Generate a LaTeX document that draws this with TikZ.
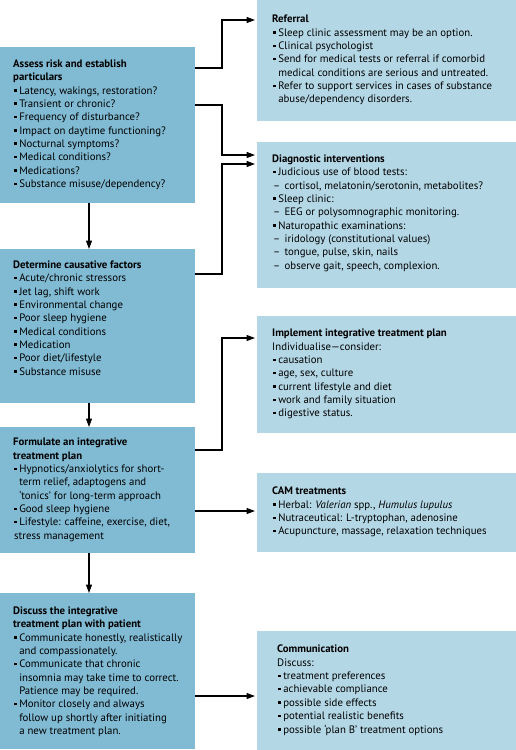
\documentclass[tikz,border=0pt]{standalone}
\usepackage{fontspec}
\setmainfont{PT Sans}
\usetikzlibrary{arrows.meta}
\definecolor{boxdark}{RGB}{128,186,211}
\definecolor{boxlight}{RGB}{180,215,230}
\newcommand\bu{\hspace*{1.2bp}\rule[2.5bp]{2.5bp}{2.5bp}\hspace*{2.4bp}}
\newcommand\ci{\hspace*{6.1bp}}
\newcommand\dl{\hspace*{1bp}–\hspace*{4.3bp}}
\begin{document}
\begin{tikzpicture}[x=1bp,y=-1bp,
  lbox/.style={rectangle, fill=boxdark, draw=none, inner sep=0, anchor=north west, minimum width=195bp},
  rbox/.style={rectangle, fill=boxlight, draw=none, inner sep=0, anchor=north west, minimum width=259bp},
  txt/.style={anchor=north west, inner sep=0, align=left, font=\fontsize{10.8bp}{13.35bp}\selectfont},
  conn/.style={line width=1.1bp, -{Triangle[length=8.5bp,width=6bp]}},
  hconn/.style={conn, shorten >=2bp},
]
\useasboundingbox (0,0) rectangle (516,750);
% left boxes
\node[lbox, minimum height=156bp] (b1) at (0,47) {};
\node[lbox, minimum height=154bp] (b2) at (0,249) {};
\node[lbox, minimum height=126bp] (b3) at (0,427) {};
\node[lbox, minimum height=156bp] (b4) at (0,593) {};
% right boxes
\node[rbox, minimum height=121bp] (ref) at (257,0) {};
\node[rbox, minimum height=146bp] (dia) at (257,142) {};
\node[rbox, minimum height=117bp] (imp) at (257,316) {};
\node[rbox, minimum height=79bp] (cam) at (257,473) {};
\node[rbox, minimum height=119bp] (com) at (257,631) {};
% texts
\node[txt] (t1) at (13,59.5) {\textbf{Assess risk and establish}\\
\textbf{particulars}\\
\bu Latency, wakings, restoration?\\
\bu Transient or chronic?\\
\bu Frequency of disturbance?\\
\bu Impact on daytime functioning?\\
\bu Nocturnal symptoms?\\
\bu Medical conditions?\\
\bu Medications?\\
\bu Substance misuse/dependency?};
\node[txt] (t2) at (13,260.5) {\textbf{Determine causative factors}\\
\bu Acute/chronic stressors\\
\bu Jet lag, shift work\\
\bu Environmental change\\
\bu Poor sleep hygiene\\
\bu Medical conditions\\
\bu Medication\\
\bu Poor diet/lifestyle\\
\bu Substance misuse};
\node[txt] (t3) at (13,438) {\textbf{Formulate an integrative}\\
\textbf{treatment plan}\\
\bu Hypnotics/anxiolytics for short-\\
\ci term relief, adaptogens and\\
\ci ‘tonics’ for long-term approach\\
\bu Good sleep hygiene\\
\bu Lifestyle: caffeine, exercise, diet,\\
\hspace*{1bp}stress management};
\node[txt] (t4) at (13,606.5) {\textbf{Discuss the integrative}\\
\textbf{treatment plan with patient}\\
\bu Communicate honestly, realistically\\
\ci and compassionately.\\
\bu Communicate that chronic\\
\ci insomnia may take time to correct.\\
\ci Patience may be required.\\
\bu Monitor closely and always\\
\ci follow up shortly after initiating\\
\ci a new treatment plan.};
\node[txt] (tr) at (272,15) {\textbf{Referral}\\
\bu Sleep clinic assessment may be an option.\\
\bu Clinical psychologist\\
\bu Send for medical tests or referral if comorbid\\
\ci medical conditions are serious and untreated.\\
\bu Refer to support services in cases of substance\\
\ci abuse/dependency disorders.};
\node[txt] (td) at (272,154.5) {\textbf{Diagnostic interventions}\\
\bu Judicious use of blood tests:\\
\dl cortisol, melatonin/serotonin, metabolites?\\
\bu Sleep clinic:\\
\dl EEG or polysomnographic monitoring.\\
\bu Naturopathic examinations:\\
\dl iridology (constitutional values)\\
\dl tongue, pulse, skin, nails\\
\dl observe gait, speech, complexion.};
\node[txt] (ti) at (272,329) {\textbf{Implement integrative treatment plan}\\
Individualise—consider:\\
\bu causation\\
\bu age, sex, culture\\
\bu current lifestyle and diet\\
\bu work and family situation\\
\bu digestive status.};
\node[txt] (tc) at (272,487) {\textbf{CAM treatments}\\
\bu Herbal: \textit{Valerian} spp., \textit{Humulus lupulus}\\
\bu Nutraceutical: L-tryptophan, adenosine\\
\bu Acupuncture, massage, relaxation techniques};
\node[txt] (tm) at (277,645) {\textbf{Communication}\\
Discuss:\\
\bu treatment preferences\\
\bu achievable compliance\\
\bu possible side effects\\
\bu potential realistic benefits\\
\bu possible ‘plan B’ treatment options};
% connectors
\coordinate (bus) at (222,0);
\draw[hconn] (b1.east |- 0,68) -- (bus |- 0,68) -- (bus |- 0,20) -- (ref.west |- 0,20);
\draw[hconn] (b1.east |- 0,105) -- (bus |- 0,105) -- (bus |- 0,155) -- (dia.west |- 0,155);
\draw[hconn] (b2.east |- 0,274) -- (bus |- 0,274) -- (bus |- 0,164) -- (dia.west |- 0,164);
\draw[hconn] (b3.east |- 0,450) -- (bus |- 0,450) -- (bus |- 0,338) -- (imp.west |- 0,338);
\draw[hconn] (b3.east |- 0,511) -- (cam.west |- 0,511);
\draw[hconn] (b4.east |- 0,696) -- (com.west |- 0,696);
\draw[conn] (b1.south -| 89,0) -- (b2.north -| 89,0);
\draw[conn] (b2.south -| 89,0) -- (b3.north -| 89,0);
\draw[conn] (b3.south -| 89,0) -- (b4.north -| 89,0);
\end{tikzpicture}
\end{document}
